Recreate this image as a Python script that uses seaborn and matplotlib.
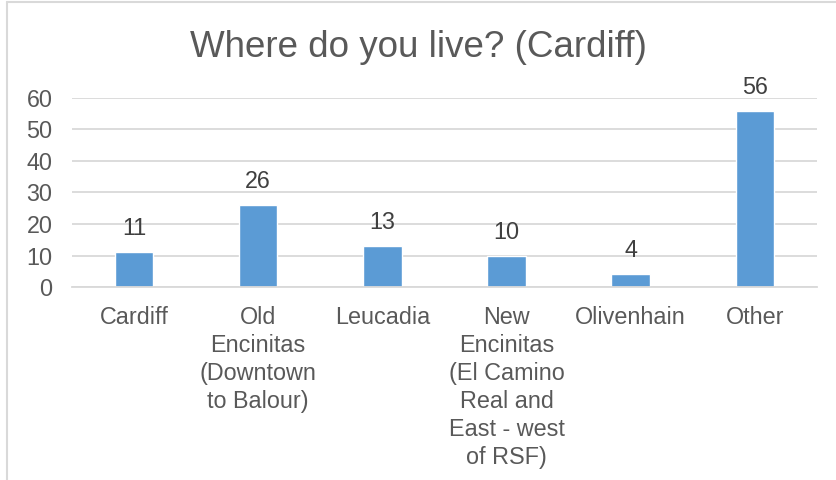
import pandas as pd
import matplotlib.pyplot as plt
import seaborn as sns
from matplotlib.lines import Line2D

categories = ['Cardiff', 'Old\nEncinitas\n(Downtown\nto Balour)', 'Leucadia',
              'New\nEncinitas\n(El Camino\nReal and\nEast - west\nof RSF)',
              'Olivenhain', 'Other']
counts = [11, 26, 13, 10, 4, 56]
yticks = [0, 10, 20, 30, 40, 50, 60]

df = pd.DataFrame({'place': categories, 'count': counts})

sns.set_style('white')
plt.rcParams['font.family'] = ['Liberation Sans', 'DejaVu Sans']

fig = plt.figure(figsize=(8.36, 4.8), dpi=100)
ax = fig.add_axes([0.0861, 0.402, 0.891, 0.394])

sns.barplot(data=df, x='place', y='count', color='#5B9BD5', width=0.31,
            saturation=1, ax=ax)

ax.set_ylim(0, 60)
ax.set_yticks(yticks)
ax.set_xlim(-0.5, len(categories) - 0.5)
ax.yaxis.grid(True, color='#D9D9D9', linewidth=1.3)
ax.set_axisbelow(True)
for s in ['top', 'right', 'left']:
    ax.spines[s].set_visible(False)
ax.spines['bottom'].set_color('#D9D9D9')
ax.spines['bottom'].set_linewidth(1.3)
ax.tick_params(axis='both', length=0, labelsize=16.8, labelcolor='#595959')
ax.tick_params(axis='y', pad=14)
ax.tick_params(axis='x', pad=13.5)
for lbl in ax.get_xticklabels():
    lbl.set_linespacing(1.28)
ax.set_xlabel('')
ax.set_ylabel('')

for i, v in enumerate(counts):
    ax.annotate(str(v), (i, v), xytext=(0, 8.6), textcoords='offset points',
                ha='center', va='bottom', fontsize=16.8, color='#404040')

fig.text(0.5, 1 - 57 / 480, 'Where do you live? (Cardiff)', ha='center',
         va='baseline', fontsize=26.5, color='#595959')

# chart frame (top and left edges only visible)
fig.add_artist(Line2D([6.5 / 836, 1], [1 - 1.5 / 480, 1 - 1.5 / 480],
                      color='#D9D9D9', linewidth=1.5, transform=fig.transFigure))
fig.add_artist(Line2D([6.5 / 836, 6.5 / 836], [0, 1 - 1.5 / 480],
                      color='#D9D9D9', linewidth=1.5, transform=fig.transFigure))

fig.savefig('out.png', dpi=100)
